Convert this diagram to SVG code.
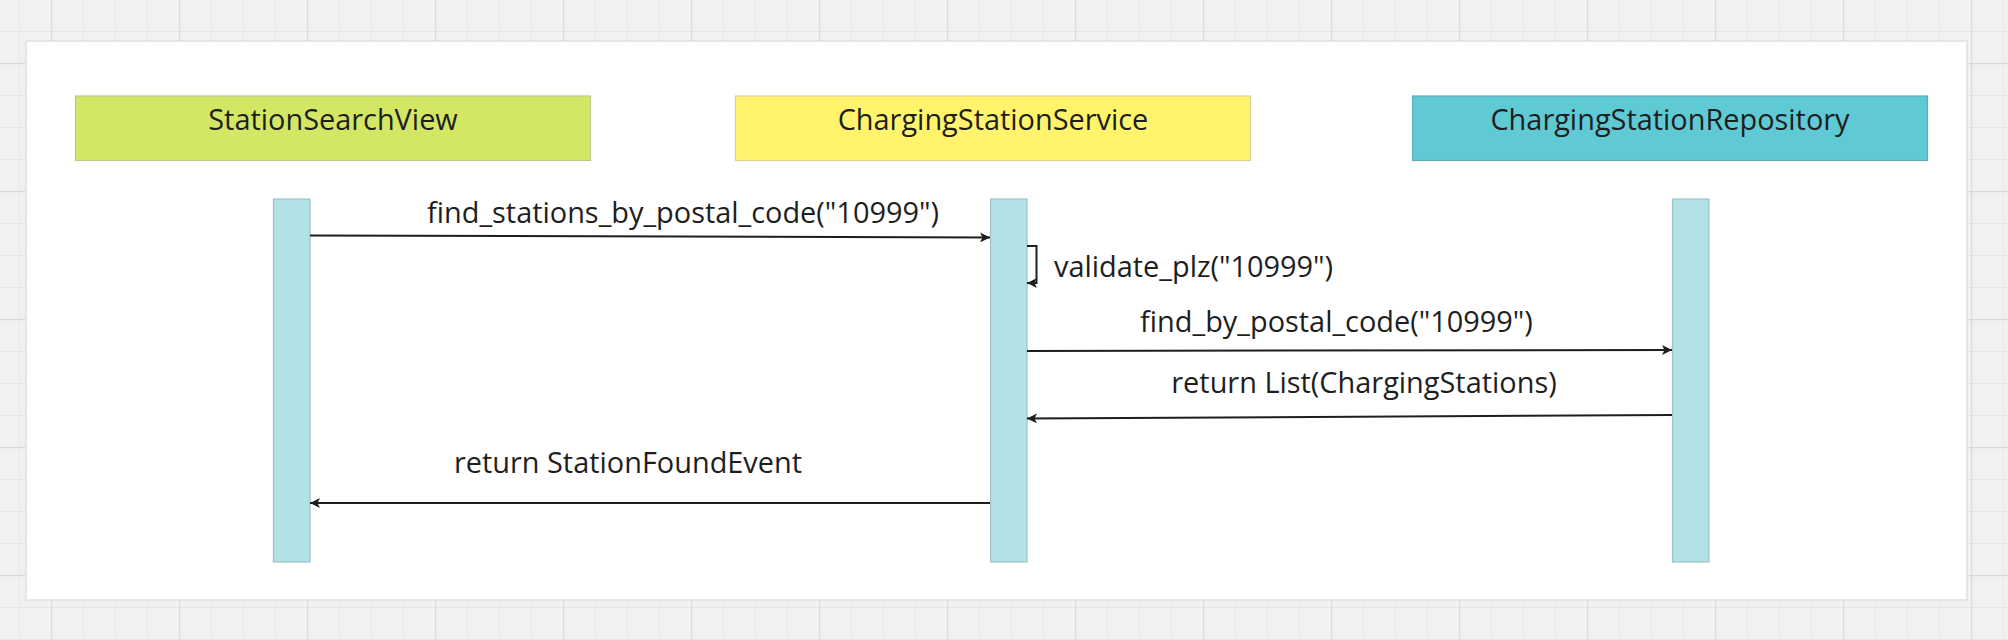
<svg xmlns="http://www.w3.org/2000/svg" width="2008" height="640" viewBox="0 0 2008 640">
<defs>
<pattern id="minor" x="19" y="31" width="32" height="32" patternUnits="userSpaceOnUse">
<path d="M0 0.5H32M0.5 0V32" fill="none" stroke="#e6e6e6" stroke-width="1"/>
</pattern>
<pattern id="major" x="51" y="63" width="128" height="128" patternUnits="userSpaceOnUse">
<path d="M0 0.5H128M0.5 0V128" fill="none" stroke="#dadada" stroke-width="1.5"/>
</pattern>
<marker id="ah" viewBox="0 0 10 10" refX="10" refY="5" markerWidth="10" markerHeight="10" markerUnits="userSpaceOnUse" orient="auto">
<path d="M0 0L10 5L0 10L2.5 5Z" fill="#1e1e1e"/>
</marker>
<style>
.lbl{font-family:"Open Sans","Liberation Sans",sans-serif;font-size:28.9px;fill:#1e1e1e;text-anchor:middle}
.node{stroke-width:1.2}
.life{fill:#b3e2e6;stroke:#9dc3c7;stroke-width:1.2}
.msg{fill:none;stroke:#1e1e1e;stroke-width:2;marker-end:url(#ah)}
</style>
</defs>
<rect width="2008" height="640" fill="#f1f1f1"/>
<rect width="2008" height="640" fill="url(#minor)"/>
<rect width="2008" height="640" fill="url(#major)"/>
<rect x="26" y="41" width="1941" height="559" fill="#ffffff" stroke="#e0e0e0" stroke-width="1.5"/>

<g id="node-StationSearchView">
<rect class="node" x="75.5" y="96" width="515" height="64.5" fill="#d4e764" stroke="#bcc98a"/>
<text class="lbl" x="333" y="130">StationSearchView</text>
</g>
<g id="node-ChargingStationService">
<rect class="node" x="735.5" y="96" width="515" height="64.5" fill="#fff46c" stroke="#d9d198"/>
<text class="lbl" x="993" y="130">ChargingStationService</text>
</g>
<g id="node-ChargingStationRepository">
<rect class="node" x="1412.5" y="96" width="515" height="64.5" fill="#5fcad4" stroke="#62aab1"/>
<text class="lbl" x="1670" y="130">ChargingStationRepository</text>
</g>

<g id="lifeline-StationSearchView">
<rect class="life" x="273.5" y="199" width="36.5" height="363"/>
</g>
<g id="lifeline-ChargingStationService">
<rect class="life" x="990.5" y="199" width="36.5" height="363"/>
</g>
<g id="lifeline-ChargingStationRepository">
<rect class="life" x="1672.5" y="199" width="36.5" height="363"/>
</g>

<g id="connectors">
<path class="msg" d="M310 235.5L990 237.5"/>
<text class="lbl" x="683" y="223">find_stations_by_postal_code("10999")</text>
<path class="msg" d="M1027 246H1036.5V283H1027"/>
<text class="lbl" x="1054" y="277" style="text-anchor:start">validate_plz("10999")</text>
<path class="msg" d="M1027 351L1672 350"/>
<text class="lbl" x="1336.5" y="332">find_by_postal_code("10999")</text>
<path class="msg" d="M1672 415L1027 418.5"/>
<text class="lbl" x="1364" y="393">return List(ChargingStations)</text>
<path class="msg" d="M990 503H310"/>
<text class="lbl" x="628" y="473">return StationFoundEvent</text>
</g>
</svg>
